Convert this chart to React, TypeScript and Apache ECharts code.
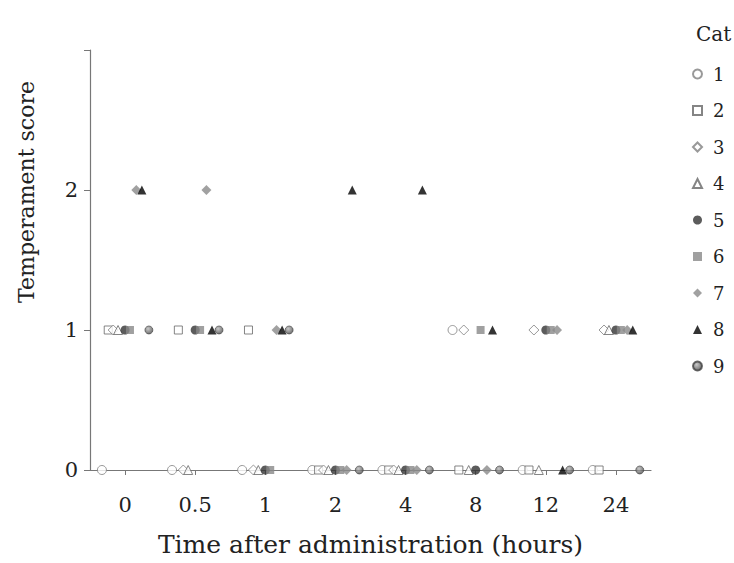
import React, { useEffect, useRef } from "react";
import * as echarts from "echarts";

const times = ["0", "0.5", "1", "2", "4", "8", "12", "24"];
const cats = ["1", "2", "3", "4", "5", "6", "7", "8", "9"];
// temperament score per cat, per time point
const cat1 = [0, 0, 0, 0, 0, 1, 0, 0];
const cat2 = [1, 1, 1, 0, 0, 0, 0, 0];
const cat3 = [1, 0, 0, 0, 0, 1, 1, 1];
const cat4 = [1, 0, 0, 0, 0, 0, 0, 1];
const cat5 = [1, 1, 0, 0, 0, 0, 1, 1];
const cat6 = [1, 1, 0, 0, 0, 1, 1, 1];
const cat7 = [2, 2, 1, 0, 0, 0, 1, 1];
const cat8 = [2, 1, 1, 2, 2, 1, 0, 1];
const cat9 = [1, 1, 1, 0, 0, 0, 0, 0];
const scores = [cat1, cat2, cat3, cat4, cat5, cat6, cat7, cat8, cat9];
// horizontal jitter of each cat within a time point (in category units)
const jitter = [-0.33, -0.24, -0.17, -0.1, 0, 0.07, 0.16, 0.24, 0.34];
const yTicks = [0, 1, 2, 3];

const FONT = "DejaVu Serif";
const openStroke = "#808080";

const styles = [
  { symbol: "circle", itemStyle: { color: "#fff", borderColor: openStroke, borderWidth: 1 } },
  { symbol: "rect", itemStyle: { color: "#fff", borderColor: "#666", borderWidth: 1 } },
  { symbol: "diamond", itemStyle: { color: "#fff", borderColor: openStroke, borderWidth: 1 } },
  { symbol: "triangle", itemStyle: { color: "#fff", borderColor: "#666", borderWidth: 1 } },
  { symbol: "circle", itemStyle: { color: "#333", borderColor: "#333", borderWidth: 0 } },
  { symbol: "rect", itemStyle: { color: "#888", borderColor: "#888", borderWidth: 0 } },
  { symbol: "diamond", itemStyle: { color: "#8a8a8a", borderColor: "#8a8a8a", borderWidth: 0 } },
  { symbol: "triangle", itemStyle: { color: "#000", borderColor: "#000", borderWidth: 0 } },
  {
    symbol: "circle",
    itemStyle: {
      color: new echarts.graphic.RadialGradient(0.4, 0.35, 0.7, [
        { offset: 0, color: "#bbb" },
        { offset: 1, color: "#444" },
      ]),
      borderColor: "#444",
      borderWidth: 0.8,
    },
  },
];
const sizes = [9, 8, 10, 9, 9, 8, 10, 9, 8];

export default function App() {
  const ref = useRef<HTMLDivElement>(null);
  useEffect(() => {
    const chart = echarts.init(ref.current!, null, { renderer: "svg" });
    const series = cats.map((c, k) => ({
      name: c,
      type: "scatter",
      xAxisIndex: 0,
      symbol: styles[k].symbol,
      symbolSize: sizes[k],
      itemStyle: styles[k].itemStyle,
      data: scores[k].map((v, i) => [i + 0.5 + jitter[k], v]),
      z: 3,
    }));
    chart.setOption({
      animation: false,
      backgroundColor: "#fff",
      title: {
        text: "Cat",
        left: 691,
        top: 19,
        textStyle: { fontFamily: FONT, fontSize: 20, fontWeight: "normal", color: "#222" },
      },
      legend: {
        orient: "vertical",
        left: 687,
        top: 60,
        itemWidth: 9,
        itemHeight: 9,
        itemGap: 18.5,
        data: cats,
        textStyle: { fontFamily: FONT, fontSize: 18, color: "#222", padding: [0, 0, 0, 6] },
      },
      grid: {
        left: 90,
        right: 83,
        top: 50,
        bottom: 93,
        containLabel: false,
        outerBoundsMode: "none",
      },
      graphic: [
        {
          type: "text",
          x: 26,
          y: 192,
          rotation: Math.PI / 2,
          style: {
            text: "Temperament score",
            fontFamily: FONT,
            fontSize: 22,
            fill: "#222",
            textAlign: "center",
            textVerticalAlign: "middle",
          },
        },
      ],
      xAxis: [
        {
          type: "value",
          min: 0,
          max: 8,
          show: false,
        },
        {
          type: "category",
          data: times,
          boundaryGap: true,
          position: "bottom",
          axisLine: { show: true, lineStyle: { color: "#777", width: 1.2 } },
          axisTick: { show: true, alignWithLabel: true, length: 5, lineStyle: { color: "#777" } },
          axisLabel: { fontFamily: FONT, fontSize: 21, color: "#222", margin: 24 },
          name: "Time after administration (hours)",
          nameLocation: "middle",
          nameGap: 62,
          nameTextStyle: { fontFamily: FONT, fontSize: 25, color: "#222" },
        },
      ],
      yAxis: {
        type: "value",
        min: 0,
        max: 3,
        interval: 1,
        axisLine: { show: true, lineStyle: { color: "#777", width: 1.2 } },
        axisTick: { show: true, length: 6, lineStyle: { color: "#777" } },
        splitLine: { show: false },
        axisLabel: {
          fontFamily: FONT,
          fontSize: 21,
          color: "#222",
          margin: 12,
          formatter: (v: number) => (v === yTicks[3] ? "" : String(v)),
        },
      },
      series,
    });
    return () => chart.dispose();
  }, []);
  return <div ref={ref} style={{ width: 734, height: 563, position: "absolute", left: 0, top: 0 }} />;
}
